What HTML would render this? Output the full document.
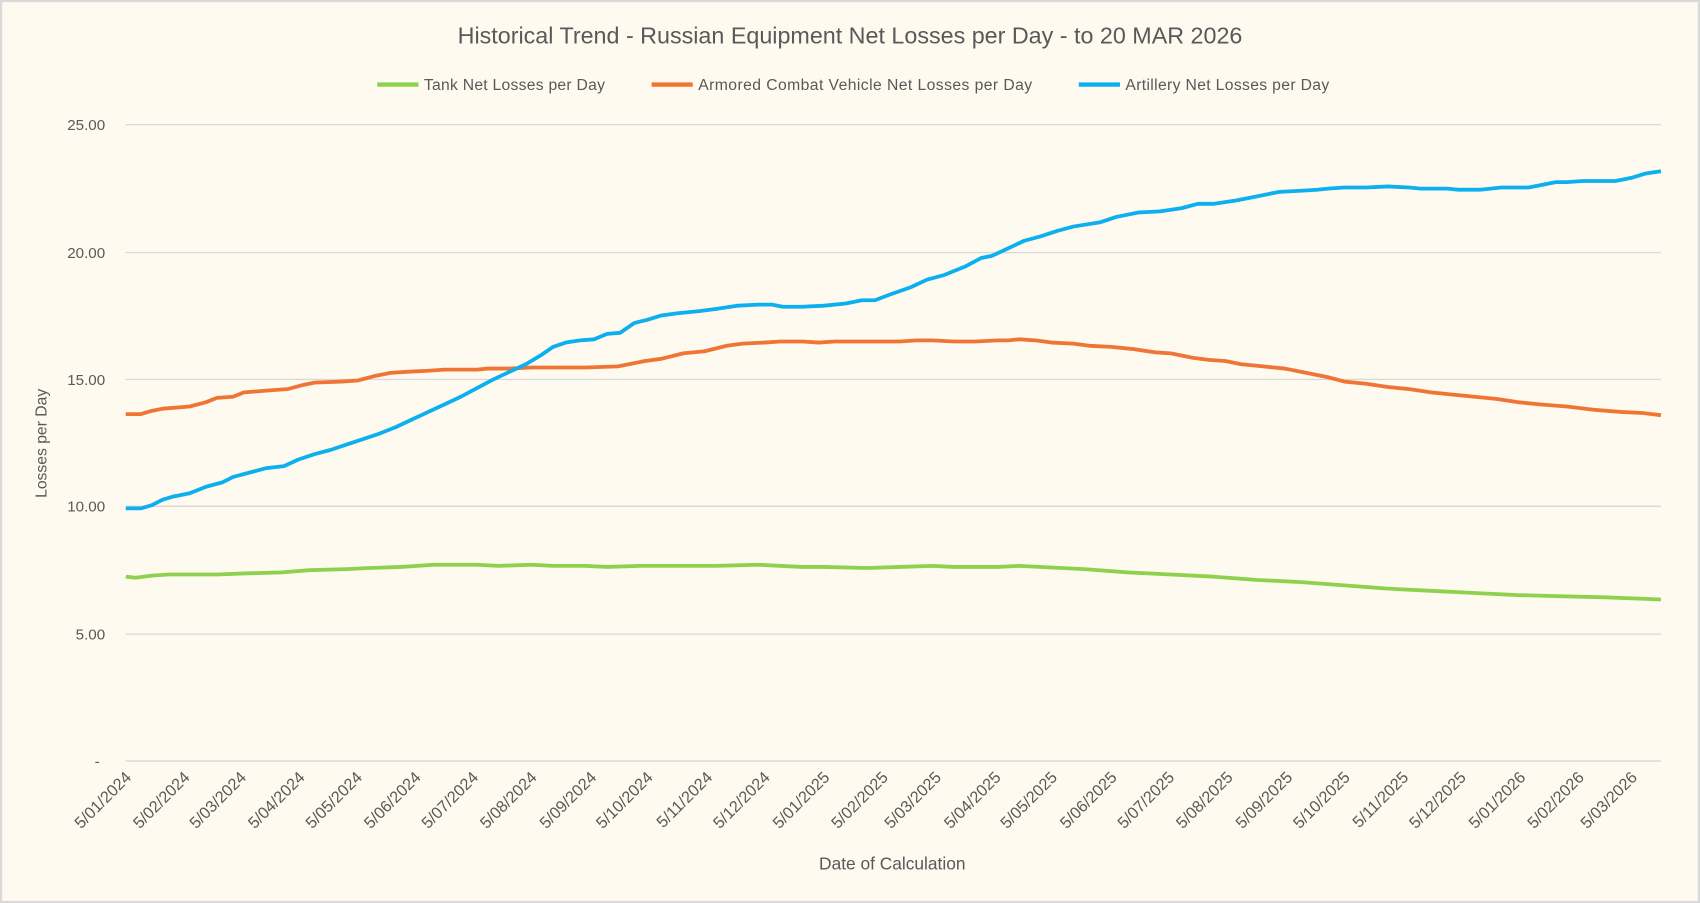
<!DOCTYPE html>
<html><head><meta charset="utf-8"><style>
html,body{margin:0;padding:0;background:#FEFAF0;}
svg{display:block;}
text{font-family:"Liberation Sans",sans-serif;fill:#595959;}
</style></head><body>
<svg width="1700" height="903" viewBox="0 0 1568 833" preserveAspectRatio="none" xmlns="http://www.w3.org/2000/svg">
<rect x="1" y="1" width="1566" height="831" fill="#FEFAF0" stroke="#D9D9D9" stroke-width="2"/>
<text x="784" y="40" font-size="21.5" text-anchor="middle">Historical Trend - Russian Equipment Net Losses per Day - to 20 MAR 2026</text>
<g font-size="14.5">
<line x1="348" y1="78" x2="386" y2="78" stroke="#8DD14F" stroke-width="4"/><text x="391" y="83" textLength="167">Tank Net Losses per Day</text>
<line x1="601" y1="78" x2="639" y2="78" stroke="#F07534" stroke-width="4"/><text x="644" y="83" textLength="308">Armored Combat Vehicle Net Losses per Day</text>
<line x1="995" y1="78" x2="1033" y2="78" stroke="#0CB0EF" stroke-width="4"/><text x="1038" y="83" textLength="188">Artillery Net Losses per Day</text>
</g>
<g stroke="#D9D9D9" stroke-width="1.3">
<line x1="116" y1="115" x2="1532" y2="115"/><line x1="116" y1="233" x2="1532" y2="233"/>
<line x1="116" y1="350" x2="1532" y2="350"/><line x1="116" y1="467" x2="1532" y2="467"/>
<line x1="116" y1="585" x2="1532" y2="585"/><line x1="116" y1="702" x2="1532" y2="702"/>
</g>
<g font-size="14" text-anchor="end">
<text x="97" y="120">25.00</text><text x="97" y="238">20.00</text><text x="97" y="355">15.00</text>
<text x="97" y="472">10.00</text><text x="97" y="590">5.00</text><text x="92" y="707">-</text>
</g>
<text transform="translate(43,409) rotate(-90)" font-size="14.5" text-anchor="middle">Losses per Day</text>
<text x="823" y="802" font-size="16" text-anchor="middle">Date of Calculation</text>
<polyline fill="none" stroke="#8DD14F" stroke-width="3.5" stroke-linejoin="round" points="116,532 125,533 140,531 155,530 200,530 225,529 260,528 285,526 320,525 340,524 370,523 385,522 400,521 440,521 460,522 490,521 510,522 540,522 560,523 590,522 660,522 700,521 740,523 760,523 800,524 830,523 860,522 880,523 920,523 940,522 1000,525 1040,528 1080,530 1120,532 1160,535 1200,537 1240,540 1280,543 1320,545 1360,547 1400,549 1440,550 1480,551 1532,553"/>
<polyline fill="none" stroke="#F07534" stroke-width="3.5" stroke-linejoin="round" points="116,382 130,382 140,379 150,377 175,375 190,371 200,367 215,366 225,362 250,360 265,359 280,355 290,353 315,352 330,351 345,347 360,344 375,343 395,342 410,341 425,341 440,341 450,340 470,340 490,339 510,339 540,339 570,338 580,336 595,333 610,331 630,326 650,324 670,319 685,317 705,316 720,315 740,315 755,316 770,315 790,315 830,315 845,314 860,314 880,315 900,315 920,314 930,314 940,313 955,314 970,316 990,317 1005,319 1025,320 1045,322 1065,325 1080,326 1100,330 1115,332 1130,333 1145,336 1165,338 1185,340 1205,344 1225,348 1240,352 1260,354 1280,357 1300,359 1320,362 1340,364 1360,366 1380,368 1400,371 1420,373 1445,375 1470,378 1495,380 1515,381 1532,383"/>
<polyline fill="none" stroke="#0CB0EF" stroke-width="3.5" stroke-linejoin="round" points="116,469 130,469 140,466 150,461 160,458 175,455 190,449 205,445 215,440 230,436 245,432 262,430 275,424 290,419 305,415 320,410 335,405 350,400 365,394 380,387 395,380 410,373 425,366 440,358 455,350 470,343 485,336 500,327 510,320 522,316 535,314 548,313 560,308 572,307 585,298 597,295 610,291 625,289 645,287 660,285 680,282 700,281 712,281 722,283 740,283 760,282 780,280 795,277 807,277 820,272 840,265 855,258 870,254 890,246 905,238 915,236 930,229 945,222 960,218 975,213 990,209 1015,205 1030,200 1050,196 1070,195 1090,192 1105,188 1120,188 1140,185 1160,181 1180,177 1200,176 1215,175 1225,174 1240,173 1260,173 1280,172 1300,173 1310,174 1335,174 1345,175 1365,175 1385,173 1410,173 1420,171 1435,168 1445,168 1460,167 1475,167 1490,167 1505,164 1518,160 1532,158"/>
<g font-size="15" text-anchor="end">
<text transform="translate(122,718) rotate(-45)">5/01/2024</text>
<text transform="translate(176,718) rotate(-45)">5/02/2024</text>
<text transform="translate(228,718) rotate(-45)">5/03/2024</text>
<text transform="translate(282,718) rotate(-45)">5/04/2024</text>
<text transform="translate(335,718) rotate(-45)">5/05/2024</text>
<text transform="translate(389,718) rotate(-45)">5/06/2024</text>
<text transform="translate(442,718) rotate(-45)">5/07/2024</text>
<text transform="translate(496,718) rotate(-45)">5/08/2024</text>
<text transform="translate(551,718) rotate(-45)">5/09/2024</text>
<text transform="translate(603,718) rotate(-45)">5/10/2024</text>
<text transform="translate(658,718) rotate(-45)">5/11/2024</text>
<text transform="translate(711,718) rotate(-45)">5/12/2024</text>
<text transform="translate(766,718) rotate(-45)">5/01/2025</text>
<text transform="translate(820,718) rotate(-45)">5/02/2025</text>
<text transform="translate(869,718) rotate(-45)">5/03/2025</text>
<text transform="translate(924,718) rotate(-45)">5/04/2025</text>
<text transform="translate(976,718) rotate(-45)">5/05/2025</text>
<text transform="translate(1031,718) rotate(-45)">5/06/2025</text>
<text transform="translate(1084,718) rotate(-45)">5/07/2025</text>
<text transform="translate(1138,718) rotate(-45)">5/08/2025</text>
<text transform="translate(1193,718) rotate(-45)">5/09/2025</text>
<text transform="translate(1246,718) rotate(-45)">5/10/2025</text>
<text transform="translate(1300,718) rotate(-45)">5/11/2025</text>
<text transform="translate(1353,718) rotate(-45)">5/12/2025</text>
<text transform="translate(1408,718) rotate(-45)">5/01/2026</text>
<text transform="translate(1462,718) rotate(-45)">5/02/2026</text>
<text transform="translate(1511,718) rotate(-45)">5/03/2026</text>
</g>
</svg>
</body></html>
